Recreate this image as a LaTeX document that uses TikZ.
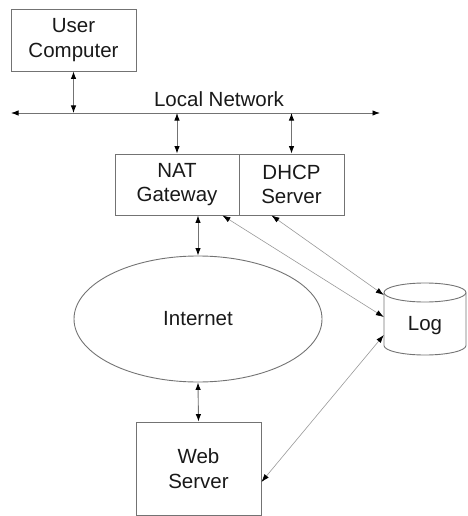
\documentclass[tikz,border=0pt]{standalone}
\usepackage{fontspec}
\setmainfont{Liberation Sans}
\usetikzlibrary{arrows.meta,shapes.geometric,calc}
\begin{document}
\begin{tikzpicture}[x=1pt,y=-1pt,
  txt/.style={font=\fontsize{20.5}{24.5}\selectfont, text=black!90},
  box/.style={txt, draw=black!55, line width=0.9pt, align=center, inner sep=0pt},
  link/.style={draw=black!55, line width=0.9pt, {Latex[length=7.5pt,width=5.5pt,black]}-{Latex[length=7.5pt,width=5.5pt,black]}},
  loglink/.style={draw=black!40, line width=0.6pt, {Latex[length=8pt,width=5.5pt,black]}-{Latex[length=8pt,width=5.5pt,black]}}]
\useasboundingbox (0,0) rectangle (467,516);

% nodes
\node[box, minimum width=125pt, minimum height=62pt] (user) at (73.5,40) {User\\Computer};
\node[txt] (lnlabel) at (219,99) {Local Network};
\coordinate (lnL) at (11,113);
\coordinate (lnR) at (380,113);
\node[box, minimum width=124pt, minimum height=61pt] (nat) at (177,184.5) {NAT\\Gateway};
\node[box, minimum width=105pt, minimum height=61pt] (dhcp) at (291.5,184.5) {DHCP\\Server};
\node[box, ellipse, minimum width=248pt, minimum height=126pt] (inet) at (198,319) {Internet};
\node[box, minimum width=125pt, minimum height=93pt] (web) at (198.5,468.5) {Web\\Server};

% log cylinder
\draw[draw=black!55, line width=0.9pt] (425,292.5) ellipse [x radius=41pt, y radius=9.5pt];
\draw[draw=black!55, line width=0.9pt] (384,292.5) -- (384,345.5)
  arc[start angle=180, end angle=360, x radius=41pt, y radius=9.5pt] -- (466,292.5);
\node[txt, minimum width=82pt, minimum height=58pt, inner sep=0pt] (log) at (425,326) {Log};

% connectors
\draw[link] (lnL) -- (lnR);
\draw[link] (user.south) -- (user.south |- lnL);
\draw[link] (nat.north |- lnL) -- (nat.north);
\draw[link] (dhcp.north |- lnL) -- (dhcp.north);
\draw[link] (inet.north |- nat.south) -- (inet.north);
\draw[link] (inet.south) -- (web.north);

\draw[loglink] ($(nat.south east)+(-17,0)$) -- ($(log.west)+(0,-9)$);
\draw[loglink] ($(dhcp.south)+(-20,0)$) -- ($(log.west)+(0,-31)$);
\draw[loglink] ($(web.east)+(0,13.5)$) -- ($(log.west)+(0,9)$);
\end{tikzpicture}
\end{document}
